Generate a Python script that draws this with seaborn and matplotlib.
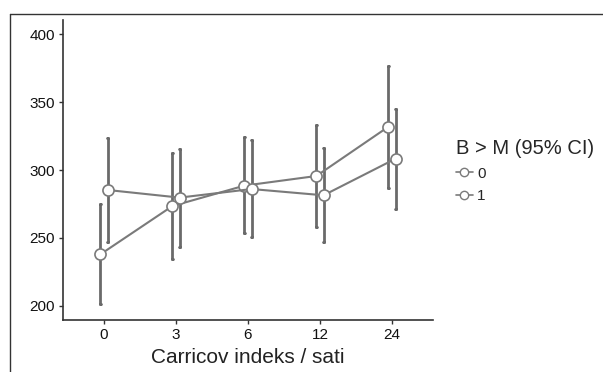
import numpy as np
import pandas as pd
import seaborn as sns
import matplotlib
matplotlib.use("Agg")
import matplotlib.pyplot as plt
from matplotlib.lines import Line2D

# Carric index time points (hours) and group labels
times = ['0', '3', '6', '12', '24']
groups = ['0', '1']

# mean and 95% CI per group
mean_0 = [238, 273.5, 288.5, 295.6, 331.8]
low_0 = [201.5, 234.8, 253.4, 258.3, 287.0]
high_0 = [274.8, 312.3, 324.0, 332.9, 376.7]

mean_1 = [285.3, 279.7, 286.0, 281.4, 308.3]
low_1 = [246.8, 243.6, 251.0, 247.0, 271.0]
high_1 = [323.8, 315.4, 322.0, 316.0, 344.9]

# long table: median of (low, mean, high) is the mean, min/max is the CI
rows = []
for g, m, lo, hi in [('0', mean_0, low_0, high_0), ('1', mean_1, low_1, high_1)]:
    for t, a, b, c in zip(times, m, lo, hi):
        for v in (a, b, c):
            rows.append({'time': t, 'group': g, 'value': v})
df = pd.DataFrame(rows)

sns.set_style('white')
plt.rcParams['font.family'] = ['Liberation Sans', 'DejaVu Sans']

fig = plt.figure(figsize=(6.03, 3.72), dpi=100)
ax = fig.add_axes([63 / 603, 1 - 320 / 372, 370 / 603, 300 / 372])

grey = '#7a7a7a'
sns.pointplot(data=df, x='time', y='value', hue='group',
              order=times, hue_order=groups,
              estimator='median', errorbar=('pi', 100),
              dodge=0.1, palette=[grey, grey],
              markers='o', linestyles='-', capsize=0.02,
              err_kws={'linewidth': 2.0, 'color': '#6a6a6a'},
              markerfacecolor='white', markeredgecolor=grey,
              markersize=8, markeredgewidth=1.2, linewidth=1.5,
              ax=ax)

# white markers sit on top of the error bars
for line in ax.lines:
    if line.get_marker() not in (None, 'None', ''):
        line.set_zorder(5)

ax.set_xlim(-0.57, 4.57)
ax.set_ylim(189.7, 410.3)
ax.set_yticks([200, 250, 300, 350, 400])
ax.set_xlabel('Carricov indeks / sati', fontsize=15, color='#222222', labelpad=4)
ax.set_ylabel('')

for side in ['top', 'right']:
    ax.spines[side].set_visible(False)
for side in ['left', 'bottom']:
    ax.spines[side].set_color('#333333')
    ax.spines[side].set_linewidth(1.2)
ax.tick_params(axis='both', colors='#333333', labelcolor='#111111',
               labelsize=11, length=3, width=1, direction='out',
               left=True, bottom=True, pad=3)

handles = [Line2D([0], [0], color=grey, lw=1.2, marker='o', markersize=6,
                  markerfacecolor='white', markeredgecolor=grey) for _ in groups]
leg = ax.legend(handles, groups, title='B > M (95% CI)', loc='upper left',
                bbox_to_anchor=(1.062, 0.603), frameon=False, fontsize=11,
                title_fontsize=14.5, handlelength=1.1, handletextpad=0.3,
                labelspacing=0.55, borderpad=0, borderaxespad=0)
leg._legend_box.align = 'left'

# frame of the original image (top and left edge only)
fig.add_artist(Line2D([10 / 603, 10 / 603], [0, 1 - 14 / 372],
                      transform=fig.transFigure, color='#333333', lw=1))
fig.add_artist(Line2D([10 / 603, 1], [1 - 14 / 372, 1 - 14 / 372],
                      transform=fig.transFigure, color='#333333', lw=1))

fig.savefig('out.png', dpi=100)
